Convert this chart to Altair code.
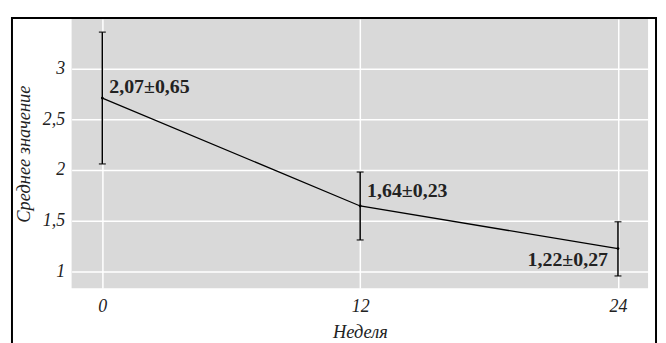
import altair as alt
import pandas as pd

weeks = [0, 12, 24]
means = [2.71, 1.645, 1.225]
lower = [2.06, 1.31, 0.955]
upper = [3.36, 1.98, 1.49]
labels = ["2,07±0,65", "1,64±0,23", "1,22±0,27"]
x_ticks = [0, 12, 24]
y_ticks = [1, 1.5, 2, 2.5, 3]

df = pd.DataFrame({"week": weeks, "mean": means, "lo": lower, "hi": upper,
                   "label": labels, "idx": [0, 1, 2]})

FONT = "Liberation Serif"
xs = alt.Scale(domain=[-1.43, 25.4], nice=False, zero=False)
ys = alt.Scale(domain=[0.833, 3.49], nice=False, zero=False)

xenc = alt.X("week:Q", scale=xs, axis=alt.Axis(
    values=x_ticks, title="Неделя", labelPadding=9, titlePadding=7,
    labelFlush=False))
yenc = alt.Y("mean:Q", scale=ys, axis=alt.Axis(
    values=y_ticks, title="Среднее значение",
    labelExpr="replace(format(datum.value, ''), '.', ',')", labelPadding=7,
    titleX=-38))

base = alt.Chart(df)

line = base.mark_line(color="black", strokeWidth=1.3).encode(x=xenc, y=yenc)
pts = base.mark_point(filled=True, color="black", size=8, opacity=1).encode(x="week:Q", y="mean:Q")
rule = base.mark_rule(color="black", strokeWidth=1.5).encode(x="week:Q", y="lo:Q", y2="hi:Q")
cap_lo = base.mark_tick(color="black", orient="horizontal", size=7, thickness=1.5).encode(x="week:Q", y="lo:Q")
cap_hi = base.mark_tick(color="black", orient="horizontal", size=7, thickness=1.5).encode(x="week:Q", y="hi:Q")

t0 = base.transform_filter("datum.idx == 0").mark_text(
    font=FONT, fontSize=20, fontWeight="bold", align="left", baseline="middle",
    dx=7, dy=-11, color="#222").encode(x="week:Q", y="mean:Q", text="label:N")
t1 = base.transform_filter("datum.idx == 1").mark_text(
    font=FONT, fontSize=20, fontWeight="bold", align="left", baseline="middle",
    dx=7, dy=-15, color="#222").encode(x="week:Q", y="mean:Q", text="label:N")
t2 = base.transform_filter("datum.idx == 2").mark_text(
    font=FONT, fontSize=20, fontWeight="bold", align="right", baseline="middle",
    dx=-10, dy=12, color="#222").encode(x="week:Q", y="mean:Q", text="label:N")

frame = alt.Chart(pd.DataFrame({"a": [0]})).mark_rect(
    fill=None, stroke="black", strokeWidth=2, clip=False).encode(
    x=alt.value(-60), x2=alt.value(588), y=alt.value(-1), y2=alt.value(400))

chart = alt.layer(line, rule, cap_lo, cap_hi, pts, t0, t1, t2, frame).properties(
    width=580, height=271,
    padding={"left": 64, "top": 10, "right": 10, "bottom": 54},
    autosize="none",
).configure_view(fill="#d9d9d9", stroke=None).configure_axis(
    grid=True, gridColor="white", gridWidth=1.5, domain=False, ticks=False,
    labelFont=FONT, labelFontStyle="italic", labelFontSize=18, labelColor="#222",
    titleFont=FONT, titleFontStyle="italic", titleFontSize=18.5, titleFontWeight="normal",
    titleColor="#222",
)

chart.save("out.html", embed_options={"renderer": "svg", "actions": False})
